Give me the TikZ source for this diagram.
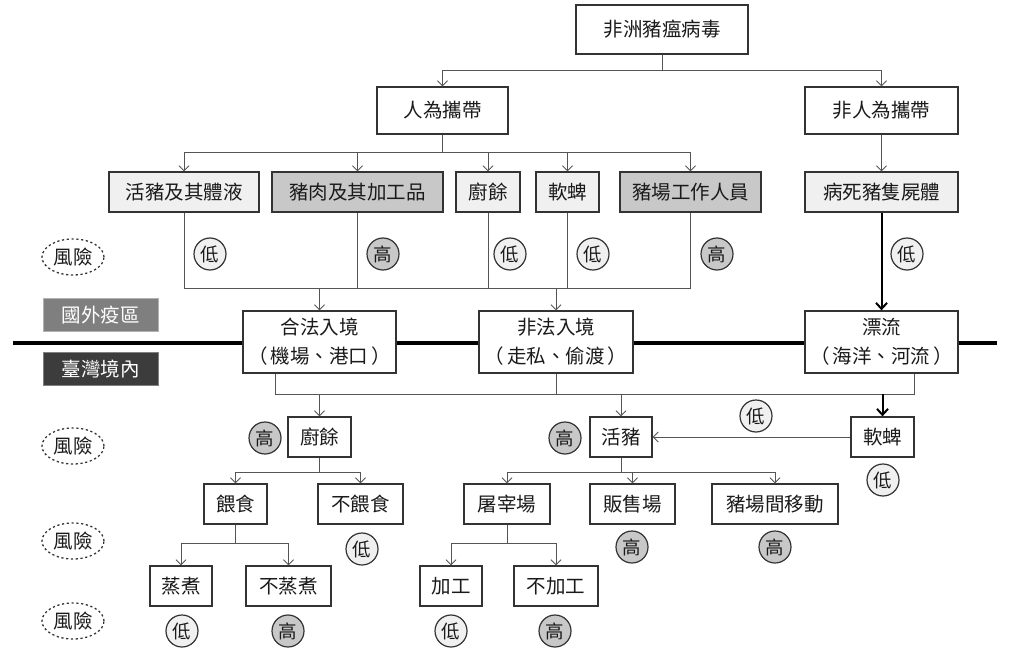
\documentclass[tikz,border=0pt]{standalone}
\usepackage{fontspec}
\setmainfont{Noto Sans CJK TC}
\usetikzlibrary{arrows.meta,calc,shapes.geometric}
\definecolor{txt}{HTML}{1A1A1A}
\definecolor{bd}{HTML}{333333}
\definecolor{cn}{HTML}{555555}
\definecolor{lt}{HTML}{F0F0F0}
\definecolor{dk}{HTML}{C8C8C8}
\definecolor{frn}{HTML}{7F7F7F}
\definecolor{twn}{HTML}{3C3C3C}
\newcommand\fsbox{\fontsize{19.5}{29}\selectfont}
\newcommand\fsrisk{\fontsize{18.5}{20}\selectfont}
\newcommand\lp{（\hspace{3pt}}
\newcommand\rp{\hspace{3pt}）}
\begin{document}
\begin{tikzpicture}[x=1pt,y=-1pt,
  box/.style={draw=bd, line width=1.3pt, fill=white, inner sep=0pt, text=txt, font=\fsbox, align=center},
  lbox/.style={box, fill=lt},
  gbox/.style={box, fill=dk},
  risklo/.style={circle, draw=bd, line width=1.2pt, fill=lt, minimum size=32pt, inner sep=0pt, text=txt, font=\fsrisk},
  riskhi/.style={risklo, fill=dk},
  legend/.style={ellipse, draw=bd, line width=1.3pt, dash pattern=on 2.2pt off 2.6pt, minimum width=62pt, minimum height=36pt, inner sep=0pt, text=txt, font=\fsbox},
  region/.style={inner sep=0pt, minimum width=115pt, minimum height=33pt, text=white, font=\fsbox},
  conn/.style={draw=cn, line width=0.9pt},
  arr/.style={conn, -{Straight Barb[length=5pt,width=10pt]}},
  tarr/.style={draw=black, line width=2pt, -{Straight Barb[length=6pt,width=11pt]}}
]
\useasboundingbox (0,0) rectangle (1024,655);
% border line
\coordinate (bl) at (13,343);
\coordinate (br) at (997,343);
\draw[black, line width=4pt] (bl) -- (br);
% level 1
\node[box, minimum width=172pt, minimum height=49pt] (virus) at (662,29.5) {非洲豬瘟病毒};
\node[box, minimum width=131pt, minimum height=47pt] (human) at (442.5,110.5) {人為攜帶};
\node[box, minimum width=153pt, minimum height=47pt] (nonhuman) at (881.5,110.5) {非人為攜帶};
% level 2
\node[lbox, minimum width=150pt, minimum height=40pt] (live) at (184,192) {活豬及其體液};
\node[gbox, minimum width=171pt, minimum height=40pt] (pork) at (357.5,192) {豬肉及其加工品};
\node[lbox, minimum width=64pt, minimum height=40pt] (swilla) at (488,192) {廚餘};
\node[lbox, minimum width=63pt, minimum height=40pt] (ticka) at (567.5,192) {軟蜱};
\node[gbox, minimum width=141pt, minimum height=40pt] (worker) at (690.5,192) {豬場工作人員};
\node[lbox, minimum width=153pt, minimum height=40pt] (carcass) at (881.5,192) {病死豬隻屍體};
% level 3
\node[box, minimum width=153pt, minimum height=62pt] (legal) at (319.5,342) {合法入境\\\lp 機場、港口\rp};
\node[box, minimum width=154pt, minimum height=62pt] (illegal) at (556,342) {非法入境\\\lp 走私、偷渡\rp};
\node[box, minimum width=153pt, minimum height=62pt] (drift) at (881.5,342) {漂流\\\lp 海洋、河流\rp};
% level 4
\node[box, minimum width=63pt, minimum height=40pt] (swill) at (319.5,437) {廚餘};
\node[box, minimum width=62pt, minimum height=40pt] (pig) at (621,437) {活豬};
\node[box, minimum width=63pt, minimum height=40pt] (tick) at (882.5,437) {軟蜱};
% level 5
\node[box, minimum width=63pt, minimum height=40pt] (feed) at (235.5,504) {餵食};
\node[box, minimum width=85pt, minimum height=40pt] (nofeed) at (360.5,504) {不餵食};
\node[box, minimum width=86pt, minimum height=40pt] (slaughter) at (507,504) {屠宰場};
\node[box, minimum width=85pt, minimum height=40pt] (market) at (632.5,504) {販售場};
\node[box, minimum width=126pt, minimum height=40pt] (move) at (775,504) {豬場間移動};
% level 6
\node[box, minimum width=62pt, minimum height=40pt] (steam) at (181,586) {蒸煮};
\node[box, minimum width=85pt, minimum height=40pt] (nosteam) at (288.5,586) {不蒸煮};
\node[box, minimum width=62pt, minimum height=40pt] (process) at (451,586) {加工};
\node[box, minimum width=84pt, minimum height=40pt] (noprocess) at (556,586) {不加工};
% legends
\node[legend] (lg1) at (73,257) {風險};
\node[legend] (lg2) at (73,446) {風險};
\node[legend] (lg3) at (73,541) {風險};
\node[legend] (lg4) at (73,621) {風險};
\node[region, fill=frn, draw=frn!60!white, line width=0.8pt] (foreign) at (100.5,315) {國外疫區};
\node[region, fill=twn, draw=gray, line width=0.8pt] (taiwan) at (100.5,369) {臺灣境內};
% risk circles
\node[risklo] (ra) at (210,254) {低};
\node[riskhi] (rb) at (383,254) {高};
\node[risklo] (rc) at (510,254) {低};
\node[risklo] (rd) at (593,254) {低};
\node[riskhi] (re) at (717,254) {高};
\node[risklo] (rf) at (907,254) {低};
\node[riskhi] (rg) at (265,438) {高};
\node[riskhi] (rh) at (565,438) {高};
\node[risklo] (ri) at (756,416) {低};
\node[risklo] (rj) at (883,480) {低};
\node[risklo] (rk) at (362,549) {低};
\node[riskhi] (rl) at (632,547) {高};
\node[riskhi] (rm) at (775,547) {高};
\node[risklo] (rn) at (182,631) {低};
\node[riskhi] (ro) at (288,631) {高};
\node[risklo] (rp) at (451,631) {低};
\node[riskhi] (rq) at (555,631) {高};
% connectors level 1 -> 2
\draw[arr] (virus.south) -- ++(0,16) -| (human.north);
\draw[arr] (virus.south) -- ++(0,16) -| (nonhuman.north);
\draw[arr] (human.south) -- ++(0,18) -| (live.north);
\draw[arr] (human.south) -- ++(0,18) -| (pork.north);
\draw[arr] (human.south) -- ++(0,18) -| (swilla.north);
\draw[arr] (human.south) -- ++(0,18) -| (ticka.north);
\draw[arr] (human.south) -- ++(0,18) -| (worker.north);
\draw[arr] (nonhuman.south) -- (carcass.north);
% level 2 -> 3
\coordinate (ja) at (0,288);
\draw[conn] (live.south) -- (live.south |- ja) -- (worker.south |- ja) -- (worker.south);
\draw[conn] (pork.south) -- (pork.south |- ja);
\draw[conn] (swilla.south) -- (swilla.south |- ja);
\draw[conn] (ticka.south) -- (ticka.south |- ja);
\draw[arr] (legal.north |- ja) -- (legal.north);
\draw[arr] (illegal.north |- ja) -- (illegal.north);
\draw[tarr] (carcass.south) -- (drift.north);
% level 3 -> 4
\coordinate (jb) at (0,394);
\coordinate (lgo) at ([xshift=-44.5pt]legal.south);
\coordinate (dro) at (drift.south -| tick.east);
\draw[conn] (lgo) -- (lgo |- jb) -- (dro |- jb) -- (dro);
\draw[conn] (illegal.south) -- (illegal.south |- jb);
\draw[arr] (swill.north |- jb) -- (swill.north);
\draw[arr] (pig.north |- jb) -- (pig.north);
\draw[tarr] (tick.north |- jb) -- (tick.north);
\draw[arr] (tick.west) -- (pig.east);
% level 4 -> 5
\draw[arr] (swill.south) -- ++(0,15) -| (feed.north);
\draw[arr] (swill.south) -- ++(0,15) -| (nofeed.north);
\draw[arr] (pig.south) -- ++(0,15) -| (slaughter.north);
\draw[arr] (pig.south) -- ++(0,15) -| (market.north);
\draw[arr] (pig.south) -- ++(0,15) -| (move.north);
% level 5 -> 6
\draw[arr] (feed.south) -- ++(0,19) -| (steam.north);
\draw[arr] (feed.south) -- ++(0,19) -| (nosteam.north);
\draw[arr] (slaughter.south) -- ++(0,19) -| (process.north);
\draw[arr] (slaughter.south) -- ++(0,19) -| (noprocess.north);
\end{tikzpicture}
\end{document}
